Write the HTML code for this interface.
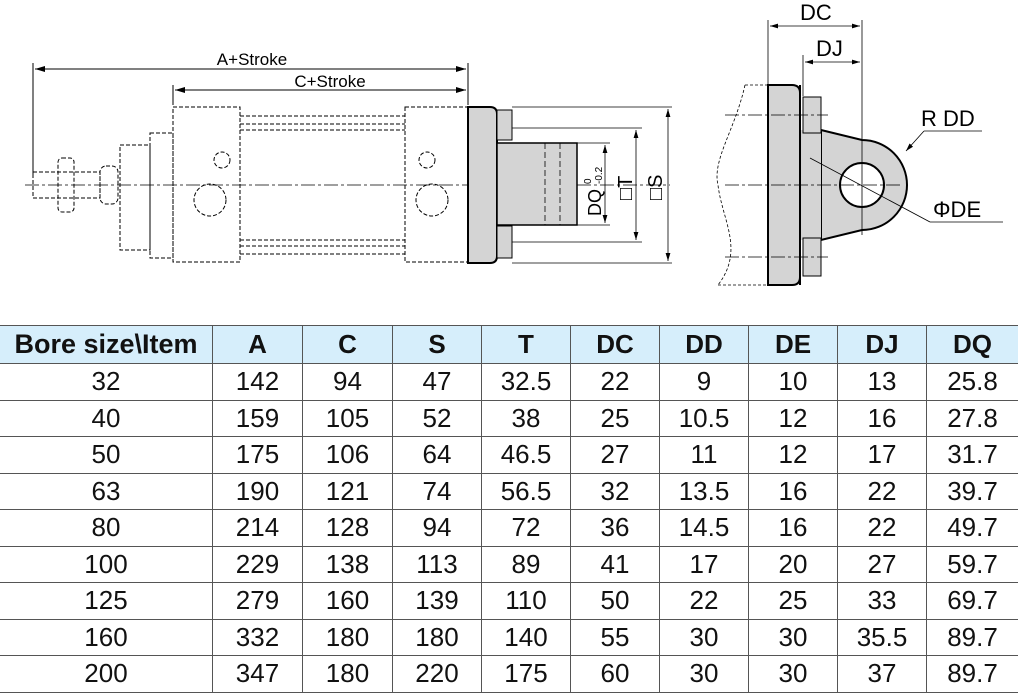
<!DOCTYPE html>
<html><head><meta charset="utf-8"><style>
body{margin:0;width:1018px;height:694px;background:#fff;overflow:hidden;position:relative;font-family:"Liberation Sans",sans-serif}
svg{position:absolute;left:0;top:0}
table{position:absolute;left:0;top:325px;border-collapse:collapse;width:1018px}
td{border:1px solid #555;text-align:center;font-size:26px;height:35.5px;padding:0;line-height:35px;color:#111}
tr.h td{background:#d6eefb;font-weight:bold;height:37px;font-size:26px}
tr.h td:first-child{font-size:27px;white-space:nowrap}
tr td:last-child{border-right:none}
tr td:first-child{border-left:none}
</style></head><body>
<svg width="1018" height="320" font-family="Liberation Sans" fill="none" stroke="#000">
<defs><marker id="a" markerWidth="10" markerHeight="6" refX="10" refY="3" orient="auto-start-reverse"><path d="M0,0L10,3L0,6z" fill="#000" stroke="none"/></marker></defs>
<g stroke-width="1">
<line x1="33" y1="63" x2="33" y2="175"/><line x1="173" y1="85" x2="173" y2="105"/><line x1="468" y1="63" x2="468" y2="105"/>
<line x1="35" y1="69" x2="466" y2="69" marker-start="url(#a)" marker-end="url(#a)"/>
<line x1="175" y1="90" x2="466" y2="90" marker-start="url(#a)" marker-end="url(#a)"/>
</g>
<text x="252" y="65" font-size="17" fill="#000" stroke="none" text-anchor="middle">A+Stroke</text>
<text x="330" y="87" font-size="17" fill="#000" stroke="none" text-anchor="middle">C+Stroke</text>
<g stroke-dasharray="4,2" stroke-width="1">
<rect x="173" y="107" width="67" height="155"/><rect x="405" y="107" width="63" height="155"/>
<line x1="240" y1="116" x2="405" y2="116"/><line x1="240" y1="124" x2="405" y2="124"/><line x1="240" y1="130" x2="405" y2="130"/>
<line x1="240" y1="240" x2="405" y2="240"/><line x1="240" y1="246" x2="405" y2="246"/><line x1="240" y1="254" x2="405" y2="254"/>
<rect x="120" y="145" width="30" height="105"/><rect x="150" y="133" width="23" height="125"/>
<rect x="33" y="172" width="67" height="26"/><rect x="58" y="158" width="16" height="54" rx="4"/>
<rect x="100" y="166" width="18" height="38" rx="6"/>
<circle cx="210" cy="200" r="16"/><circle cx="432" cy="200" r="16"/>
<circle cx="222" cy="160" r="8"/><circle cx="427" cy="160" r="8"/>
</g>
<line x1="25" y1="185" x2="670" y2="185" stroke-dasharray="14,3,3,3" stroke-width="0.8"/>
<path d="M468,107H490Q497,107 497,114V256Q497,263 490,263H468Z" fill="#d4d4d4" stroke-width="2"/>
<rect x="497" y="143" width="80" height="82" fill="#d4d4d4" stroke-width="1.5"/>
<rect x="497" y="110" width="15" height="30" fill="#d4d4d4"/><rect x="497" y="226" width="15" height="32" fill="#d4d4d4"/>
<g stroke-dasharray="6,3" stroke-width="0.8"><line x1="545" y1="143" x2="545" y2="225"/><line x1="560" y1="143" x2="560" y2="225"/></g>
<g stroke-width="0.8">
<line x1="512" y1="107" x2="672" y2="107"/><line x1="512" y1="263" x2="672" y2="263"/>
<line x1="512" y1="128" x2="642" y2="128"/><line x1="512" y1="242" x2="642" y2="242"/>
<line x1="577" y1="143" x2="610" y2="143"/><line x1="577" y1="225" x2="610" y2="225"/>
<line x1="668" y1="109" x2="668" y2="261" marker-start="url(#a)" marker-end="url(#a)"/>
<line x1="636" y1="130" x2="636" y2="240" marker-start="url(#a)" marker-end="url(#a)"/>
<line x1="605" y1="145" x2="605" y2="223" marker-start="url(#a)" marker-end="url(#a)"/>
</g>
<g fill="#000" stroke="none" font-size="18">
<text transform="translate(601,216) rotate(-90)">DQ</text>
<text transform="translate(591,184) rotate(-90)" font-size="10">0</text>
<text transform="translate(602,184) rotate(-90)" font-size="10">-0.2</text>
<text transform="translate(632,200) rotate(-90)" font-size="20">□T</text>
<text transform="translate(662,200) rotate(-90)" font-size="20">□S</text>
</g>
<!-- right view -->
<path d="M745,85 C735,130 712,160 718,185 C722,220 745,250 718,285" stroke-dasharray="3,2" stroke-width="0.8"/>
<line x1="745" y1="85" x2="768" y2="85" stroke-dasharray="3,2" stroke-width="0.8"/><line x1="718" y1="285" x2="768" y2="285" stroke-dasharray="3,2" stroke-width="0.8"/>
<path d="M821,130 L862,140 A45,45 0 0 1 862,230 L821,240 Z" fill="#d4d4d4" stroke-width="2"/>
<path d="M768,85H792Q800,85 800,93V277Q800,285 792,285H768Z" fill="#d4d4d4" stroke-width="2"/>
<rect x="800" y="130" width="21" height="110" fill="#d4d4d4" stroke="none"/>
<line x1="800" y1="85" x2="800" y2="285" stroke-width="2"/>
<rect x="803" y="97" width="18" height="36" fill="#d4d4d4"/><rect x="803" y="238" width="18" height="38" fill="#d4d4d4"/>
<circle cx="862" cy="185" r="22" fill="#fff" stroke-width="2"/>
<g stroke-width="0.8">
<line x1="725" y1="185" x2="900" y2="185" stroke-dasharray="14,3,3,3"/>
<line x1="725" y1="115" x2="828" y2="115" stroke-dasharray="14,3,3,3"/>
<line x1="725" y1="257" x2="828" y2="257" stroke-dasharray="14,3,3,3"/>
<line x1="862" y1="20" x2="862" y2="235"/>
<line x1="768" y1="20" x2="768" y2="84"/><line x1="803" y1="55" x2="803" y2="96"/>
<line x1="770" y1="26" x2="860" y2="26" marker-start="url(#a)" marker-end="url(#a)"/>
<line x1="805" y1="62" x2="860" y2="62" marker-start="url(#a)" marker-end="url(#a)"/>
<line x1="906" y1="151" x2="924" y2="131" marker-start="url(#a)"/><line x1="924" y1="131" x2="982" y2="131"/>
<line x1="810" y1="158" x2="930" y2="222"/><line x1="930" y1="222" x2="1003" y2="222"/>
</g>
<g fill="#000" stroke="none" font-size="22">
<text x="800" y="20">DC</text><text x="816" y="56">DJ</text>
<text x="921" y="126">R DD</text><text x="933" y="217">ΦDE</text>
</g>
</svg>
<table>
<tr class="h"><td style="width:212px">Bore size\Item</td><td style="width:89px">A</td><td style="width:89px">C</td><td style="width:88px">S</td><td style="width:88px">T</td><td style="width:88px">DC</td><td style="width:88px">DD</td><td style="width:88px">DE</td><td style="width:88px">DJ</td><td>DQ</td></tr>
<tr><td>32</td><td>142</td><td>94</td><td>47</td><td>32.5</td><td>22</td><td>9</td><td>10</td><td>13</td><td>25.8</td></tr>
<tr><td>40</td><td>159</td><td>105</td><td>52</td><td>38</td><td>25</td><td>10.5</td><td>12</td><td>16</td><td>27.8</td></tr>
<tr><td>50</td><td>175</td><td>106</td><td>64</td><td>46.5</td><td>27</td><td>11</td><td>12</td><td>17</td><td>31.7</td></tr>
<tr><td>63</td><td>190</td><td>121</td><td>74</td><td>56.5</td><td>32</td><td>13.5</td><td>16</td><td>22</td><td>39.7</td></tr>
<tr><td>80</td><td>214</td><td>128</td><td>94</td><td>72</td><td>36</td><td>14.5</td><td>16</td><td>22</td><td>49.7</td></tr>
<tr><td>100</td><td>229</td><td>138</td><td>113</td><td>89</td><td>41</td><td>17</td><td>20</td><td>27</td><td>59.7</td></tr>
<tr><td>125</td><td>279</td><td>160</td><td>139</td><td>110</td><td>50</td><td>22</td><td>25</td><td>33</td><td>69.7</td></tr>
<tr><td>160</td><td>332</td><td>180</td><td>180</td><td>140</td><td>55</td><td>30</td><td>30</td><td>35.5</td><td>89.7</td></tr>
<tr><td>200</td><td>347</td><td>180</td><td>220</td><td>175</td><td>60</td><td>30</td><td>30</td><td>37</td><td>89.7</td></tr>
</table>
</body></html>
